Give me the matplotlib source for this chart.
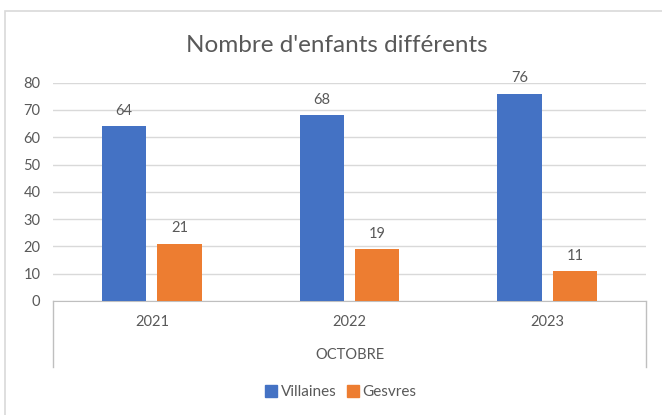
import numpy as np
import matplotlib.pyplot as plt
from matplotlib.patches import Rectangle
from matplotlib.lines import Line2D

# chart values
years = ['2021', '2022', '2023']
villaines = [64, 68, 76]
gesvres = [21, 19, 11]
series_names = ['Villaines', 'Gesvres']
group_label = 'OCTOBRE'
title = "Nombre d'enfants différents"

blue = '#4472C4'
orange = '#ED7D31'
grey_txt = '#595959'

plt.rcParams['font.family'] = ['Lato', 'DejaVu Sans']

fig = plt.figure(figsize=(6.62, 4.15), dpi=100)
W, H = 662, 415

# outer chart frame (excel style), cut by the screenshot on the right / bottom
fig.patches.append(Rectangle((5 / W, -0.2), 2, 1 - 11 / H + 0.2, transform=fig.transFigure,
                             fill=False, edgecolor='#D9D9D9', linewidth=1.2))

top_px, bot_px = 82.7, 301
ax = fig.add_axes([53 / W, 1 - bot_px / H, (646 - 53) / W, (bot_px - top_px) / H])

x = np.arange(len(years))
w = 0.223
gap = 0.057
b1 = ax.bar(x - (w + gap) / 2, villaines, w, color=blue, zorder=3)
b2 = ax.bar(x + (w + gap) / 2, gesvres, w, color=orange, zorder=3)
ax.bar_label(b1, padding=6, fontsize=10.5, color=grey_txt)
ax.bar_label(b2, padding=6, fontsize=10.5, color=grey_txt)

ax.set_xlim(-0.5, len(years) - 0.5)
ax.set_ylim(0, 80)
ax.set_yticks(range(0, 81, 10))
ax.grid(axis='y', color='#D9D9D9', linewidth=1, zorder=0)
ax.tick_params(axis='y', length=0, pad=9, labelsize=10.5, labelcolor=grey_txt)
ax.set_xticks(x)
ax.set_xticklabels(years)
ax.tick_params(axis='x', length=0, pad=10, labelsize=10.5, labelcolor=grey_txt)

for s in ['top', 'right', 'left']:
    ax.spines[s].set_visible(False)
ax.spines['bottom'].set_color('#BFBFBF')

# multi level category axis: outer lines and group label
depth = (367 - bot_px) / (bot_px - top_px)
for xe in [0, 1]:
    ax.plot([xe, xe], [0, -depth], transform=ax.transAxes, color='#BFBFBF',
            linewidth=1, clip_on=False)
ax.text(0.5, -(355 - bot_px) / (bot_px - top_px), group_label, transform=ax.transAxes,
        ha='center', va='center', fontsize=10.5, color=grey_txt)

fig.text(0.5 * (183 + 490) / W, 1 - 45 / H, title, ha='center', va='center',
         fontsize=17.5, color=grey_txt)

handles = [Line2D([], [], marker='s', linestyle='', markersize=8, color=c) for c in [blue, orange]]
fig.legend(handles, series_names, loc='center', bbox_to_anchor=(340 / W, 1 - 392 / H),
           ncol=2, frameon=False, fontsize=11, labelcolor=grey_txt,
           handletextpad=0.1, columnspacing=0.6, handlelength=1.0)

fig.savefig('out.png', dpi=100)
